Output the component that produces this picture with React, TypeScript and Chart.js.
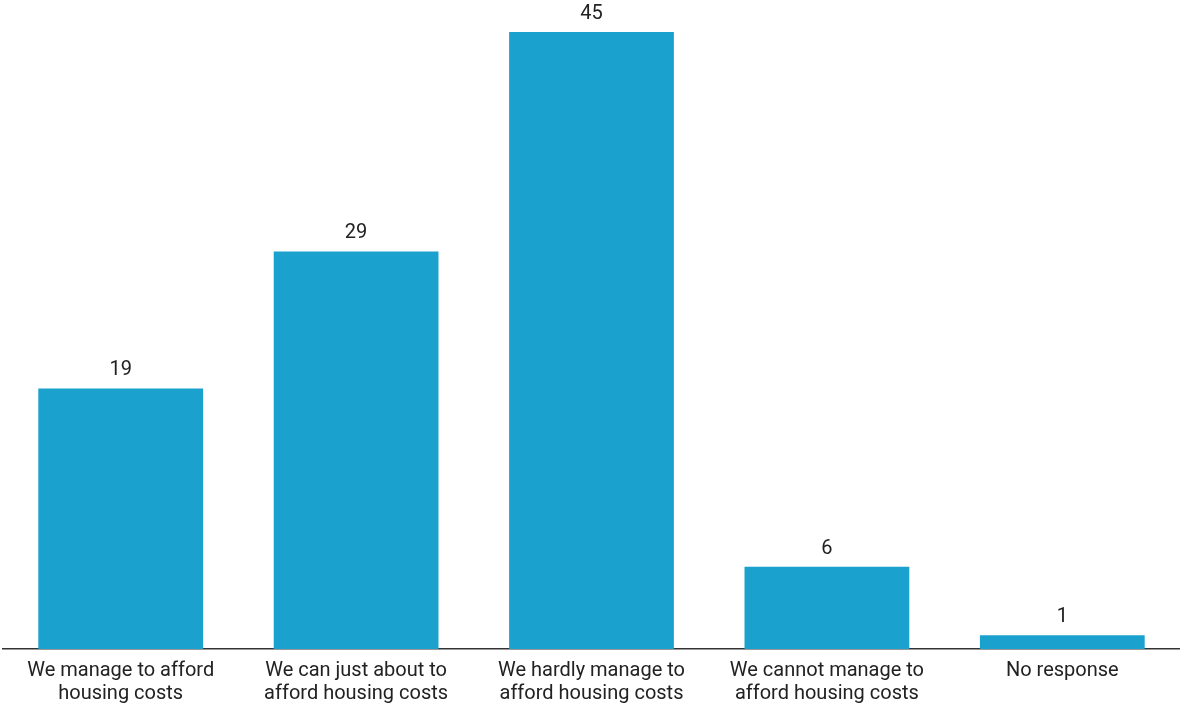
import React, { useEffect, useRef } from "react";
import { Chart, registerables } from "chart.js";

Chart.register(...registerables);

const categories: string[][] = [
  ["We manage to afford", "housing costs"],
  ["We can just about to", "afford housing costs"],
  ["We hardly manage to", "afford housing costs"],
  ["We cannot manage to", "afford housing costs"],
  ["No response"],
];
const values: number[] = [19, 29, 45, 6, 1];

const valueLabels = {
  id: "valueLabels",
  afterDatasetsDraw(chart: any) {
    const ctx = chart.ctx;
    const meta = chart.getDatasetMeta(0);
    ctx.save();
    ctx.font = "20px Roboto";
    ctx.fillStyle = "#222222";
    ctx.textAlign = "center";
    ctx.textBaseline = "alphabetic";
    meta.data.forEach((bar: any, i: number) => {
      ctx.fillText(String(values[i]), bar.x, bar.y - 13);
    });
    ctx.restore();
  },
};

export default function App() {
  const ref = useRef<HTMLCanvasElement | null>(null);
  useEffect(() => {
    document.body.style.margin = "0";
    const chart = new Chart(ref.current as HTMLCanvasElement, {
      type: "bar",
      data: {
        labels: categories,
        datasets: [
          {
            data: values,
            backgroundColor: "#1ba1cd",
            barPercentage: 0.7,
            categoryPercentage: 1,
          },
        ],
      },
      options: {
        animation: false,
        responsive: true,
        maintainAspectRatio: false,
        layout: { padding: { top: 32, left: 3, right: 0, bottom: -9 } },
        plugins: { legend: { display: false }, tooltip: { enabled: false } },
        scales: {
          y: { display: false, min: 0, max: 45 },
          x: {
            grid: { display: false, drawTicks: false },
            border: { display: true, color: "#333333", width: 1.5 },
            ticks: {
              color: "#222222",
              padding: 10,
              maxRotation: 0,
              autoSkip: false,
              font: { family: "Roboto", size: 20, lineHeight: 1.15 },
            },
          },
        },
      },
      plugins: [valueLabels],
    });
    return () => chart.destroy();
  }, []);
  return (
    <div style={{ width: 1180, height: 706, position: "relative" }}>
      <canvas ref={ref} />
    </div>
  );
}
